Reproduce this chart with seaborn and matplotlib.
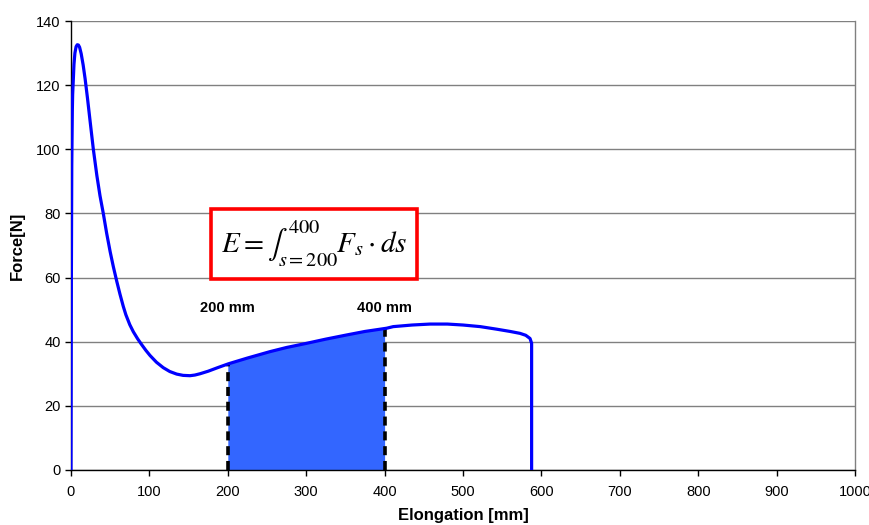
import matplotlib
matplotlib.use("Agg")
import matplotlib.pyplot as plt
import seaborn as sns
import numpy as np
import pandas as pd

# Force-elongation curve of the tensile test
elongation_mm = [0, 0.5, 1.0, 1.7, 2.1, 3.0, 3.8, 5.0, 6.5, 8.0, 9.5, 11.0, 13.0,
                 15.5, 18.0, 21.0, 24.5, 28.5, 33.0, 37.0, 41.2, 45.5, 50.0,
                 54.0, 58.3, 62.5, 66.7, 70.0, 75.0, 79.5, 85.0, 90.1, 95.5,
                 100.8, 109.0, 117.7, 126.0, 134.8, 143.0, 151.8, 158.0, 164.5,
                 175.0, 187.0, 200.7, 225.0, 253.8, 275.0, 300.6, 325.0, 351.6,
                 375.0, 402.6, 411.0, 435.0, 458.0, 480.0, 500.0, 522.0, 543.0,
                 560.0, 572.7, 580.0, 585.5, 587.5, 587.5]
force_n = [0, 60, 95, 112, 117, 122, 126.5, 130.0, 132.0, 132.6, 132.5, 131.8, 129.8,
           126.3, 122.0, 116.0, 108.5, 100.0, 91.8, 85.5, 80.0, 73.8, 68.0,
           63.4, 58.9, 54.8, 51.0, 48.4, 45.3, 43.1, 40.9, 39.1, 37.3,
           35.7, 33.6, 31.9, 30.7, 29.9, 29.5, 29.4, 29.6, 30.0,
           30.8, 31.9, 33.1, 34.9, 36.9, 38.2, 39.5, 40.8, 42.1,
           43.2, 44.2, 44.7, 45.2, 45.5, 45.5, 45.2, 44.7, 43.9,
           43.2, 42.6, 42.0, 41.0, 39.5, 0]

# Integration limits for the energy
s_start = 200
s_end = 400
limit_labels = ["200 mm", "400 mm"]

x_ticks = [0, 100, 200, 300, 400, 500, 600, 700, 800, 900, 1000]
y_ticks = [0, 20, 40, 60, 80, 100, 120, 140]

df = pd.DataFrame({"Elongation": elongation_mm, "Force": force_n})

sns.set_theme(style="white")
plt.rcParams["font.family"] = ["Liberation Sans", "DejaVu Sans"]
plt.rcParams["mathtext.fontset"] = "stix"

fig = plt.figure(figsize=(8.7, 5.25), dpi=100)
ax = fig.add_axes([0.0816, 0.1048, 0.9012, 0.8552])

# Shaded area under the curve between the limits
xs = np.array(elongation_mm[:-1])
ys = np.array(force_n[:-1])
inside = (xs > s_start) & (xs < s_end)
fx = np.concatenate([[s_start], xs[inside], [s_end]])
fy = np.concatenate([[np.interp(s_start, xs, ys)], ys[inside], [np.interp(s_end, xs, ys)]])
ax.fill_between(fx, 0, fy, color="#3366FF", linewidth=0, zorder=2)
for s, lab in zip([s_start, s_end], limit_labels):
    ax.plot([s, s], [0, np.interp(s, xs, ys)], color="black", lw=2.6,
            dashes=(2.5, 1.6), zorder=3)
    ax.text(s, 50.5, lab, ha="center", va="center", fontsize=10.5,
            fontweight="bold", color="black")

sns.lineplot(data=df, x="Elongation", y="Force", sort=False, estimator=None,
             color="#0000FF", lw=2.3, ax=ax, zorder=4)
ax.lines[-1].set_solid_joinstyle("round")

# Formula box
ax.text(310, 70.5, r"$E=\int_{s=200}^{400}F_s\cdot ds$", ha="center", va="center",
        fontsize=21, color="black", zorder=5,
        bbox=dict(boxstyle="square,pad=0.33", fc="white", ec="#FF0000", lw=2.6))

ax.set_xlim(0, 1000)
ax.set_ylim(0, 140)
ax.set_xticks(x_ticks)
ax.set_yticks(y_ticks)
ax.yaxis.grid(True, color="#808080", lw=1.0)
ax.set_axisbelow(True)
ax.spines["top"].set_visible(False)
ax.spines["right"].set_color("#808080")
ax.spines["right"].set_linewidth(1.0)
for side in ["left", "bottom"]:
    ax.spines[side].set_color("black")
    ax.spines[side].set_linewidth(1.0)
ax.tick_params(axis="both", which="major", direction="out", length=4, width=1,
               color="black", labelsize=10.5, labelcolor="black", bottom=True, left=True)
ax.tick_params(axis="x", pad=7)
ax.set_xlabel("Elongation [mm]", fontsize=12, fontweight="bold", color="black", labelpad=6)
ax.set_ylabel("Force[N]", fontsize=12, fontweight="bold", color="black", labelpad=8)

fig.savefig("out.png", dpi=100)
